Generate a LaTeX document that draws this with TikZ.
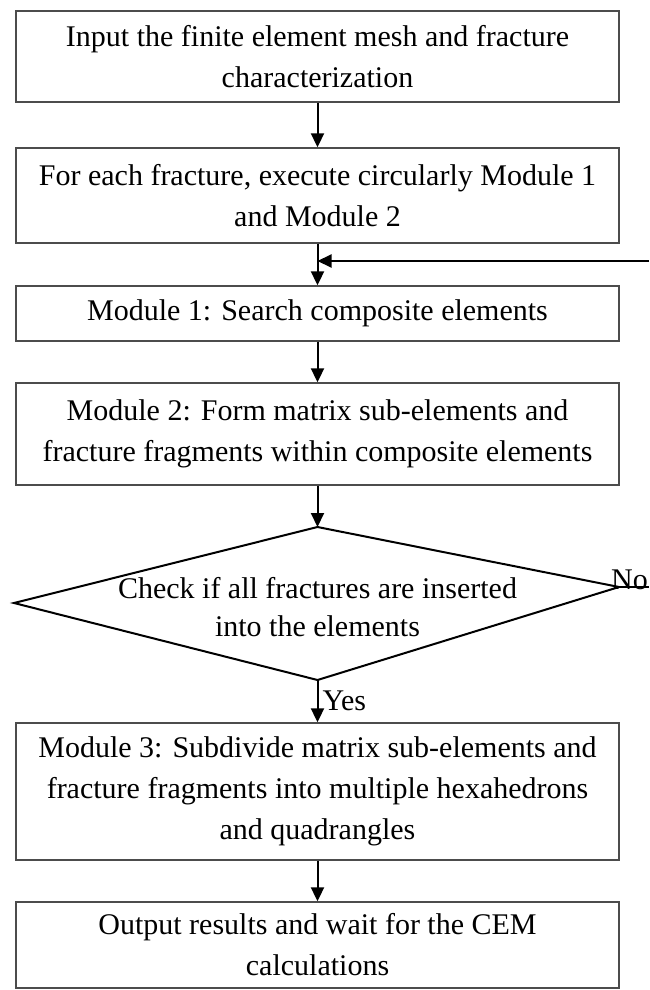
\documentclass[tikz,border=0pt]{standalone}
\usepackage{fontspec}
\setmainfont{Liberation Serif}
\usetikzlibrary{arrows.meta}
\begin{document}
\begin{tikzpicture}[x=1pt,y=-1pt,
  boxst/.style={draw=black!70,line width=1.4pt,align=center,inner sep=0pt,
    font=\fontsize{30}{41}\selectfont},
  arr/.style={draw=black,line width=2pt,-{Triangle[length=14pt,width=13pt]}},
  plain/.style={draw=black,line width=2pt},
  lbl/.style={font=\fontsize{30}{34}\selectfont,inner sep=0pt}]
\useasboundingbox (0,0) rectangle (649,990);
\node[boxst,minimum width=603pt,minimum height=91pt] (b1) at (317.5,56.5)
  {Input the finite element mesh and fracture\\characterization};
\node[boxst,minimum width=603pt,minimum height=95pt] (b2) at (317.5,195.5)
  {For each fracture, execute circularly Module 1\\and Module 2};
\node[boxst,minimum width=603pt,minimum height=55pt] (b3) at (317.5,313.5)
  {Module 1: Search composite elements};
\node[boxst,minimum width=603pt,minimum height=102pt] (b4) at (317.5,434)
  {Module 2: Form matrix sub-elements and\\fracture fragments within composite elements};
\coordinate (dt) at (317.5,527);
\coordinate (db) at (317.5,680);
\coordinate (dl) at (14,603);
\coordinate (dr) at (619,587);
\draw[line width=2pt] (dt) -- (dr) -- (db) -- (dl) -- cycle;
\node[align=center,font=\fontsize{30}{38}\selectfont,inner sep=0pt] (dtext) at (317.5,607)
  {Check if all fractures are inserted\\into the elements};
\node[boxst,minimum width=603pt,minimum height=137pt] (b5) at (317.5,791.5)
  {Module 3: Subdivide matrix sub-elements and\\fracture fragments into multiple hexahedrons\\and quadrangles};
\node[boxst,minimum width=603pt,minimum height=86pt] (b6) at (317.5,945)
  {Output results and wait for the CEM\\calculations};
\coordinate (junc) at (317.5,261);
\coordinate (loopend) at (649,261);
\coordinate (noend) at (649,587);
\draw[arr] (b1.south) -- (b2.north);
\draw[plain] (b2.south) -- (junc);
\draw[arr] (junc) -- (b3.north);
\draw[arr] (loopend) -- (junc);
\draw[arr] (b3.south) -- (b4.north);
\draw[arr] (b4.south) -- (dt);
\draw[arr] (db) -- node[lbl,anchor=west,xshift=4pt] (yes) {Yes} (b5.north);
\draw[plain] (dr) -- (noend);
\node[lbl,anchor=south west] (no) at (611,590) {No};
\draw[arr] (b5.south) -- (b6.north);
\end{tikzpicture}
\end{document}
